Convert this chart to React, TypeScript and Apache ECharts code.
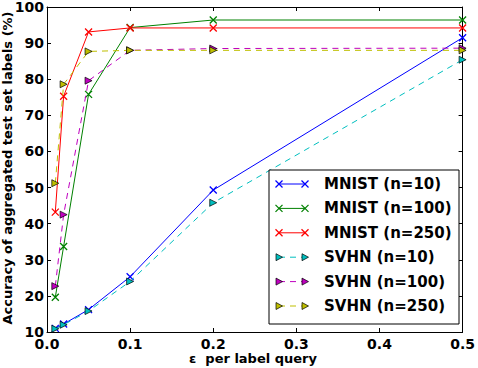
import React, { useEffect, useRef } from "react";
import * as echarts from "echarts";

const epsValues = [0.01, 0.02, 0.05, 0.1, 0.2, 0.5];
const seriesNames = [
  "MNIST (n=10)",
  "MNIST (n=100)",
  "MNIST (n=250)",
  "SVHN (n=10)",
  "SVHN (n=100)",
  "SVHN (n=250)",
];
const mnist10 = [11.0, 12.2, 16.2, 25.3, 49.3, 91.5];
const mnist100 = [19.6, 33.7, 75.8, 94.3, 96.4, 96.4];
const mnist250 = [43.2, 75.3, 93.1, 94.2, 94.2, 94.2];
const svhn10 = [10.9, 12.0, 15.8, 24.0, 45.8, 85.4];
const svhn100 = [22.7, 42.5, 79.6, 88.0, 88.5, 88.6];
const svhn250 = [51.2, 78.6, 87.7, 88.0, 88.0, 88.0];
const seriesValues = [mnist10, mnist100, mnist250, svhn10, svhn100, svhn250];
const colors = ["#0000ff", "#008000", "#ff0000", "#00bfbf", "#bf00bf", "#bfbf00"];
const isSvhn = [false, false, false, true, true, true];

const X_PATH = "path://M0,0L10,10M10,0L0,10";
const TRI_PATH = "path://M0,0L10,5L0,10Z";

export default function App() {
  const ref = useRef<HTMLDivElement>(null);
  useEffect(() => {
    document.body.style.margin = "0";
    if (!ref.current) return;
    const chart = echarts.init(ref.current, null, { renderer: "svg" });
    const font = "DejaVu Sans";
    const series: any[] = seriesNames.map((name, i) => ({
      name,
      type: "line",
      data: epsValues.map((x, j) => [x, seriesValues[i][j]]),
      symbol: isSvhn[i] ? TRI_PATH : X_PATH,
      symbolSize: 7,
      showSymbol: true,
      color: colors[i],
      lineStyle: {
        color: colors[i],
        width: 1,
        type: isSvhn[i] ? [6, 5] : "solid",
      },
      itemStyle: isSvhn[i]
        ? { color: colors[i], borderColor: "#000", borderWidth: 0.7 }
        : { color: colors[i], borderColor: colors[i], borderWidth: 1.3 },
      z: 2 + i,
    }));

    // legend drawn as graphic
    const lx = 269, ly = 170, lw = 190, lh = 154;
    const g: any[] = [
      {
        type: "rect",
        shape: { x: lx, y: ly, width: lw, height: lh },
        style: { fill: "#fff", stroke: "#000", lineWidth: 1 },
        z: 100,
      },
    ];
    seriesNames.forEach((name, i) => {
      const y = 184 + i * 24.4;
      const x1 = 279, x2 = 305;
      g.push({
        type: "line",
        shape: { x1, y1: y, x2, y2: y },
        style: {
          stroke: colors[i],
          lineWidth: 1,
          lineDash: isSvhn[i] ? [6, 5] : null,
        },
        z: 101,
      });
      [x1, x2].forEach((cx) => {
        if (isSvhn[i]) {
          g.push({
            type: "polygon",
            shape: { points: [[cx - 3, y - 3.5], [cx + 3.5, y], [cx - 3, y + 3.5]] },
            style: { fill: colors[i], stroke: "#000", lineWidth: 0.7 },
            z: 102,
          });
        } else {
          g.push({
            type: "line",
            shape: { x1: cx - 3.5, y1: y - 3.5, x2: cx + 3.5, y2: y + 3.5 },
            style: { stroke: colors[i], lineWidth: 1.3 },
            z: 102,
          });
          g.push({
            type: "line",
            shape: { x1: cx + 3.5, y1: y - 3.5, x2: cx - 3.5, y2: y + 3.5 },
            style: { stroke: colors[i], lineWidth: 1.3 },
            z: 102,
          });
        }
      });
      g.push({
        type: "text",
        x: 324,
        y,
        style: {
          text: name,
          fontFamily: font,
          fontWeight: "bold",
          fontSize: 15,
          fill: "#000",
          verticalAlign: "middle",
          align: "left",
        },
        z: 102,
      });
    });
    g.push({
      type: "text",
      x: 253,
      y: 358,
      style: {
        text: "ε  per label query",
        fontFamily: font,
        fontWeight: "bold",
        fontSize: 13,
        fill: "#000",
        align: "center",
        verticalAlign: "middle",
      },
    });
    g.push({
      type: "text",
      x: 7,
      y: 168,
      rotation: Math.PI / 2,
      style: {
        text: "Accuracy of aggregated test set labels (%)",
        fontFamily: font,
        fontWeight: "bold",
        fontSize: 13,
        fill: "#000",
        align: "center",
        verticalAlign: "middle",
      },
    });

    const axisCommon = {
      type: "value" as const,
      axisLine: { show: true, onZero: false, lineStyle: { color: "#000", width: 1 } },
      axisTick: { show: true, inside: true, length: 4, lineStyle: { color: "#000" } },
      splitLine: { show: false },
    };

    chart.setOption({
      animation: false,
      backgroundColor: "#fff",
      grid: { left: 47, right: 12, top: 7, bottom: 36, containLabel: false },
      xAxis: [
        {
          ...axisCommon,
          position: "bottom",
          min: 0,
          max: 0.5,
          interval: 0.1,
          axisLabel: {
            margin: 5,
            showMinLabel: true,
            showMaxLabel: true,
            hideOverlap: false,
            fontFamily: font,
            fontWeight: "bold",
            fontSize: 14,
            color: "#000",
            formatter: (v: number) => v.toFixed(1),
          },
        },
        {
          ...axisCommon,
          position: "top",
          min: 0,
          max: 0.5,
          interval: 0.1,
          axisLabel: { show: false },
        },
      ],
      yAxis: [
        {
          ...axisCommon,
          position: "left",
          min: 10,
          max: 100,
          interval: 10,
          axisLabel: {
            margin: 3,
            showMinLabel: true,
            showMaxLabel: true,
            fontFamily: font,
            fontWeight: "bold",
            fontSize: 14,
            color: "#000",
          },
        },
        {
          ...axisCommon,
          position: "right",
          min: 10,
          max: 100,
          interval: 10,
          axisLabel: { show: false },
        },
      ],
      series,
      graphic: g,
    });
    return () => chart.dispose();
  }, []);
  return <div ref={ref} style={{ width: 478, height: 368 }} />;
}
